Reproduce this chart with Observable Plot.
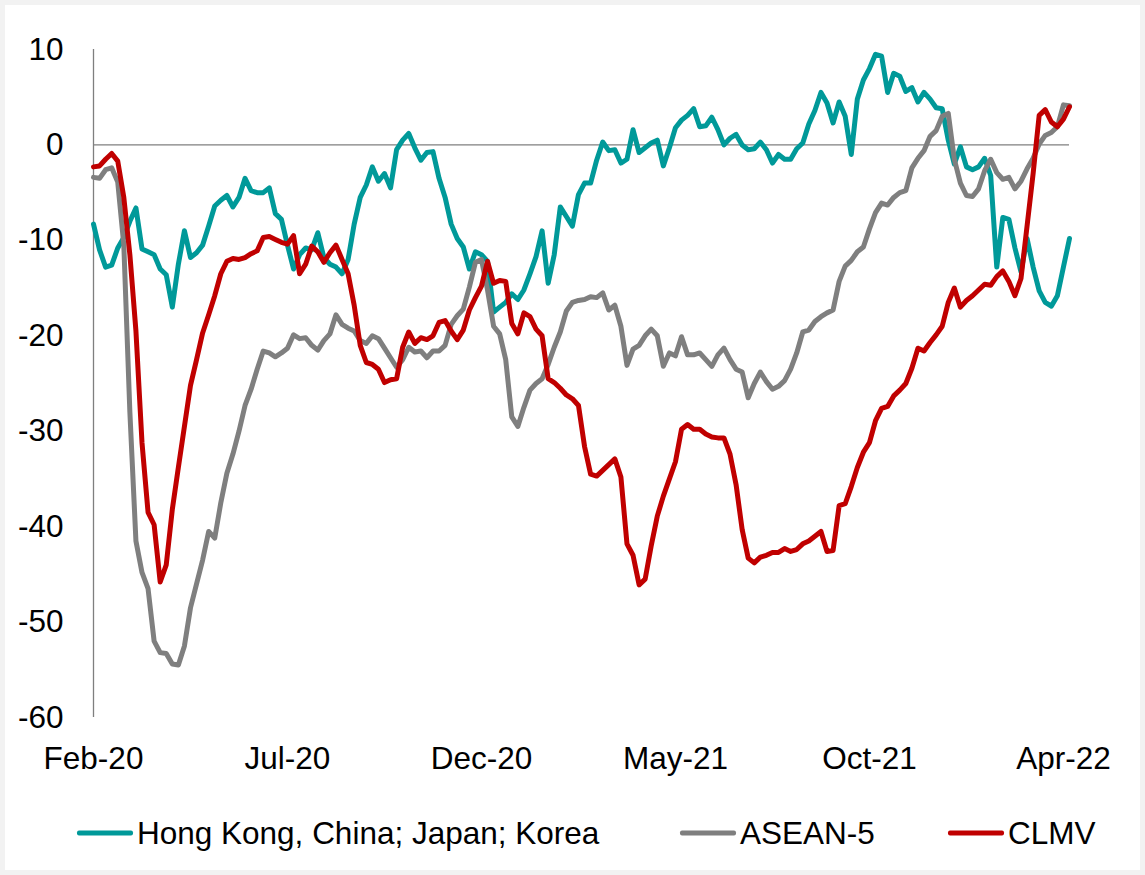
<!DOCTYPE html>
<html>
<head>
<meta charset="utf-8">
<script src="https://cdn.jsdelivr.net/npm/d3@7"></script>
<script src="https://cdn.jsdelivr.net/npm/@observablehq/plot@0.6"></script>
<style>
  html, body { margin: 0; padding: 0; }
  body { width: 1145px; height: 875px; background: #f2f2f2; position: relative; overflow: hidden;
         font-family: "Liberation Sans", Arial, sans-serif; }
  #panel { position: absolute; left: 5px; top: 5px; width: 1135px; height: 865px; background: #fff; }
  #chart { position: absolute; left: 0; top: 0; }
  .leg { position: absolute; top: 833px; transform: translateY(-50%); display: flex; align-items: center;
         font-size: 31.5px; color: #000; white-space: nowrap; }
  .sw { display: inline-block; height: 5px; border-radius: 2px; margin-right: 4px; }
</style>
</head>
<body>
<div id="panel"></div>
<div id="chart"></div>
<div id="legend"></div>
<script>
// Series names and colours
const seriesNames = ["Hong Kong, China; Japan; Korea", "ASEAN-5", "CLMV"];
const seriesColors = ["#009999", "#7f7f7f", "#c00000"];

// X tick labels and the observation index where each falls
const tickLabels = ["Feb-20", "Jul-20", "Dec-20", "May-21", "Oct-21", "Apr-22"];
const tickIndex = [0, 32, 64, 96, 128, 160];

// Y ticks
const yTicks = [10, 0, -10, -20, -30, -40, -50, -60];

// Hong Kong, China; Japan; Korea
const hk = [
  -8.3, -11, -12.8, -12.6, -10.8, -9.7, -8.0, -6.6, -10.9, -11.2,
  -11.5, -13.0, -13.6, -17.0, -12.5, -9.0, -11.8, -11.3, -10.5, -8.5,
  -6.4, -5.8, -5.3, -6.5, -5.5, -3.5, -4.8, -5.0, -5.0, -4.5,
  -7.2, -7.8, -10.5, -13.0, -11.5, -10.8, -11.0, -9.2, -11.8, -12.5,
  -12.8, -13.5, -12.0, -8.3, -5.5, -4.2, -2.3, -3.8, -3.0, -4.5,
  -0.5, 0.5, 1.2, -0.3, -1.6, -0.8, -0.7, -3.5, -5.5, -8.3,
  -9.8, -10.7, -13.0, -11.2, -11.5, -12.2, -17.5, -17.0, -16.5, -15.6,
  -16.2, -15.2, -13.5, -11.7, -9.0, -14.5, -11.5, -6.5, -7.5, -8.5,
  -5.2, -4.0, -4.0, -1.6, 0.3, -0.6, -0.5, -1.9, -1.5, 1.6,
  -0.8, -0.3, 0.2, 0.5, -2.2, -0.3, 1.8, 2.6, 3.1, 3.8,
  1.9, 2.0, 2.9, 1.6, 0, 0.7, 1.1, 0, -0.5, -0.4,
  0.3, -0.5, -1.9, -1.0, -1.5, -1.5, -0.4, 0.2, 2.2, 3.6,
  5.5, 4.4, 2.3, 4.5, 3.0, -1.0, 4.8, 6.8, 8.0, 9.5,
  9.3, 5.5, 7.5, 7.2, 5.6, 6.0, 4.5, 5.5, 4.8, 3.9,
  3.8, 0.5, -2.0, -0.2, -2.3, -2.6, -2.3, -1.4, -3.2, -12.8,
  -7.6, -7.8, -10.8, -13.3, -9.8, -12.8, -15.3, -16.5, -16.9, -15.8,
  -12.8, -9.8
];

// ASEAN-5
const asean = [
  -3.4, -3.5, -2.6, -2.4, -3.9, -10.5, -28, -41.5, -44.8, -46.5,
  -52, -53.2, -53.3, -54.4, -54.5, -52.5, -48.5, -46, -43.5, -40.5,
  -41.2, -37.5, -34.4, -32.4, -30, -27.3, -25.6, -23.5, -21.6, -21.8,
  -22.2, -21.8, -21.3, -19.9, -20.3, -20.2, -21.0, -21.5, -20.5, -19.8,
  -17.8, -18.8, -19.2, -19.5, -20.5, -20.8, -20.0, -20.3, -21.3, -22.3,
  -23.3, -22.5, -21.2, -21.7, -21.6, -22.3, -21.6, -21.6, -21.0, -18.8,
  -17.9, -17.2, -14.9, -12.3, -12.0, -15.2, -19, -19.8, -22.5, -28.5,
  -29.5, -27.5, -25.7, -25.0, -24.5, -23.0, -21.2, -19.6, -17.4, -16.5,
  -16.3, -16.2, -15.9, -16.0, -15.5, -17.3, -16.8, -19.0, -23.1, -21.4,
  -21.0, -20.0, -19.3, -20.0, -23.2, -21.8, -22.1, -20.1, -22.0, -22.0,
  -21.8, -22.5, -23.2, -22.0, -21.3, -22.5, -23.5, -23.8, -26.5, -25.0,
  -23.8, -24.8, -25.6, -25.3, -24.7, -23.5, -21.8, -19.6, -19.4, -18.5,
  -18.0, -17.6, -17.3, -14.3, -12.7, -12.1, -11.2, -10.7, -8.8, -7.1,
  -6.1, -6.3, -5.5, -5.0, -4.8, -2.4, -1.4, -0.6, 0.9, 1.5,
  3.0, 3.3, -1.5, -4.0, -5.3, -5.4, -4.6, -2.7, -1.5, -2.9,
  -3.6, -3.4, -4.6, -3.8, -2.5, -1.4, 0.1, 1.0, 1.3, 1.9,
  4.2, 4.1
];

// CLMV
const clmv = [
  -2.3, -2.2, -1.5, -0.9, -1.7, -5.5, -11.5, -19.5, -31.2, -38.5,
  -39.8, -45.8, -44.0, -38.2, -33.8, -29.5, -25.2, -22.5, -19.7, -17.8,
  -15.8, -13.5, -12.2, -11.9, -12.0, -11.8, -11.4, -11.1, -9.7, -9.6,
  -9.9, -10.2, -10.4, -9.5, -13.5, -12.5, -10.6, -11.2, -12.3, -11.3,
  -10.5, -12.0, -13.5, -16.8, -21, -22.8, -23.0, -23.5, -24.9, -24.6,
  -24.5, -21.2, -19.6, -20.8, -20.2, -20.4, -20.0, -18.6, -18.4, -19.5,
  -20.4, -19.4, -17.3, -16.0, -14.8, -12.2, -14.5, -14.2, -14.3, -18.7,
  -19.8, -17.6, -18.0, -19.3, -20.0, -24.5, -24.9, -25.5, -26.2, -26.6,
  -27.3, -31.6, -34.5, -34.7, -34.1, -33.5, -32.9, -34.8, -41.8, -43.0,
  -46.1, -45.5, -42.0, -38.9, -36.8, -35.0, -33.2, -29.8, -29.3, -29.8,
  -29.8, -30.3, -30.6, -30.7, -30.7, -32.4, -35.6, -40.3, -43.3, -43.8,
  -43.2, -43.0, -42.7, -42.7, -42.3, -42.6, -42.4, -41.8, -41.5, -41.0,
  -40.5, -42.6, -42.5, -37.8, -37.6, -35.8, -33.8, -32.2, -31.2, -28.9,
  -27.6, -27.4, -26.3, -25.7, -25.0, -23.4, -21.3, -21.6, -20.7, -19.9,
  -19.0, -16.5, -15.0, -17.0, -16.3, -15.8, -15.2, -14.6, -14.7, -13.8,
  -13.2, -14.3, -15.8, -14.0, -8.5, -3.0, 3.1, 3.7, 2.4, 1.9,
  2.7, 4.0
];

const seriesValues = [hk, asean, clmv];
const rows = [];
seriesNames.forEach((name, s) => {
  seriesValues[s].forEach((v, i) => rows.push({ name, i, v }));
});
const nPoints = hk.length;

const chart = Plot.plot({
  width: 1145,
  height: 790,
  marginLeft: 93,
  marginRight: 76,
  marginTop: 49,
  marginBottom: 73,
  style: {
    fontFamily: '"Liberation Sans", Arial, sans-serif',
    fontSize: "31.5px",
    color: "#000",
    background: "transparent",
    overflow: "visible"
  },
  x: { domain: [0, nPoints - 1] },
  y: { domain: [-60, 10] },
  color: { domain: seriesNames, range: seriesColors },
  marks: [
    Plot.ruleY([0], { stroke: "#7f7f7f", strokeWidth: 1.3 }),
    Plot.ruleX([0], { stroke: "#7f7f7f", strokeWidth: 1.3 }),
    Plot.line(rows, {
      x: "i", y: "v", z: "name", stroke: "name",
      strokeWidth: 5, strokeLinejoin: "round", strokeLinecap: "round"
    }),
    Plot.axisX({
      ticks: tickIndex,
      tickFormat: d => tickLabels[tickIndex.indexOf(d)],
      tickSize: 0, tickPadding: 29, label: null, fill: "#000"
    }),
    Plot.axisY({
      ticks: yTicks,
      tickFormat: d => String(d),
      tickSize: 0, tickPadding: 30, label: null, fill: "#000"
    })
  ]
});
document.getElementById("chart").appendChild(chart);

// Legend
const legendLeft = [77, 680, 948];
const legend = document.getElementById("legend");
seriesNames.forEach((name, k) => {
  const item = document.createElement("div");
  item.className = "leg";
  item.style.left = legendLeft[k] + "px";
  const sw = document.createElement("span");
  sw.className = "sw";
  sw.style.width = "56px";
  sw.style.background = seriesColors[k];
  const tx = document.createElement("span");
  tx.textContent = name;
  item.appendChild(sw);
  item.appendChild(tx);
  legend.appendChild(item);
});
</script>
</body>
</html>
